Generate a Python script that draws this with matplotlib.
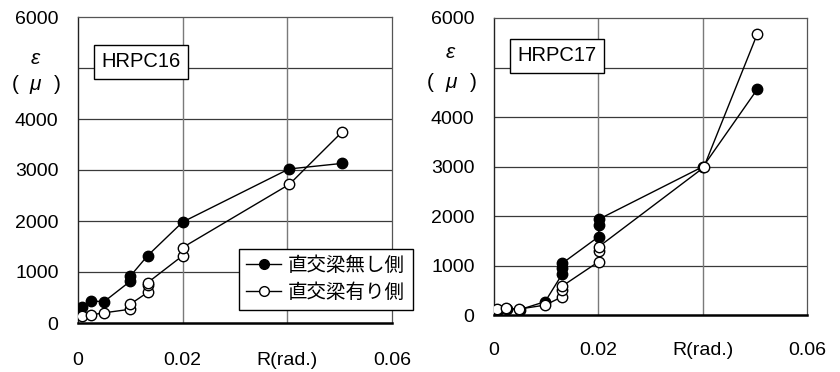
import matplotlib
matplotlib.use('Agg')
import matplotlib.pyplot as plt
from matplotlib.lines import Line2D

plt.rcParams['font.family'] = ['Liberation Sans', 'Noto Sans CJK JP', 'DejaVu Sans']
plt.rcParams['font.size'] = 14

# HRPC16: strain vs. drift angle
r16_without = [0.0007, 0.0025, 0.005, 0.01, 0.01, 0.0133, 0.02, 0.0403, 0.0505]
e16_without = [320, 430, 420, 820, 920, 1320, 1980, 3020, 3130]
r16_with = [0.0007, 0.0025, 0.005, 0.01, 0.01, 0.0133, 0.0133, 0.0133, 0.02, 0.02, 0.0404, 0.0505]
e16_with = [145, 160, 200, 270, 370, 600, 750, 790, 1320, 1480, 2720, 3750]

# HRPC17
r17_without = [0.0007, 0.0025, 0.005, 0.0098, 0.0131, 0.0131, 0.0131, 0.0201, 0.0201, 0.0201, 0.0401, 0.0505]
e17_without = [110, 130, 110, 270, 830, 940, 1045, 1585, 1820, 1935, 3000, 4565]
r17_with = [0.0006, 0.0023, 0.0048, 0.0098, 0.0131, 0.0131, 0.0131, 0.0201, 0.0201, 0.0201, 0.0402, 0.0505]
e17_with = [115, 135, 120, 200, 370, 505, 585, 1080, 1300, 1380, 2980, 5685]

xticks = [0, 0.02, 0.04, 0.06]
xticklabels = ['0', '0.02', 'R(rad.)', '0.06']
yticks = [0, 1000, 2000, 3000, 4000, 5000, 6000]
yticklabels = ['0', '1000', '2000', '3000', '4000', '', '6000']

W, H = 840, 372
fig = plt.figure(figsize=(W / 100, H / 100), dpi=100)


def px_axes(x0, y0, x1, y1):
    return fig.add_axes([x0 / W, 1 - y1 / H, (x1 - x0) / W, (y1 - y0) / H])


def setup(ax, name, box_xy, xpad):
    ax.set_xlim(0, 0.06)
    ax.set_ylim(0, 6000)
    ax.set_xticks(xticks)
    ax.set_xticklabels(xticklabels)
    ax.set_yticks(yticks)
    ax.set_yticklabels(yticklabels)
    ax.tick_params(axis='x', length=0, pad=xpad)
    ax.tick_params(axis='y', length=0, pad=14)
    for y in yticks[1:-1]:
        ax.axhline(y, color='#3a3a3a', lw=0.9, zorder=1)
    for x in xticks[1:-1]:
        ax.axvline(x, color='#7a7a7a', lw=1.0, zorder=1)
    for s in ['top', 'right']:
        ax.spines[s].set_color('#555555')
        ax.spines[s].set_linewidth(0.9)
    ax.spines['left'].set_color('#222222')
    ax.spines['left'].set_linewidth(1.0)
    ax.spines['bottom'].set_color('black')
    ax.spines['bottom'].set_linewidth(1.8)
    ax.text(box_xy[0], box_xy[1], name, transform=ax.transAxes, fontsize=14.5,
            ha='left', va='top', zorder=5,
            bbox=dict(boxstyle='square,pad=0.38', fc='white', ec='black', lw=1.0))


def draw(ax, r_no, e_no, r_yes, e_yes):
    ax.plot(r_no, e_no, color='black', lw=1.0, marker='o', ms=7.5,
            mfc='black', mec='black', mew=1.0, zorder=3)
    ax.plot(r_yes, e_yes, color='black', lw=1.0, marker='o', ms=7.5,
            mfc='white', mec='black', mew=1.0, zorder=4)


ax1 = px_axes(78, 17, 392, 323)
draw(ax1, r16_without, e16_without, r16_with, e16_with)
setup(ax1, 'HRPC16', (0.075, 0.885), 21)

ax2 = px_axes(494, 18, 807, 315)
draw(ax2, r17_without, e17_without, r17_with, e17_with)
setup(ax2, 'HRPC17', (0.075, 0.905), 19.5)

# strain unit labels beside the axes: ε over (μ)
for x_eps, y_eps, x_mu, y_mu in [(35, 59, (15, 35, 57), 85), (450, 53, (430, 451, 473), 82)]:
    fig.text(x_eps / W, 1 - y_eps / H, 'ε', ha='center', va='center', style='italic', fontsize=15)
    for x, ch in zip(x_mu, ['(', 'μ', ')']):
        fig.text(x / W, 1 - y_mu / H, ch, ha='center', va='center',
                 style='italic' if ch == 'μ' else 'normal', fontsize=15)

handles = [
    Line2D([], [], color='black', lw=1.0, marker='o', ms=7, mfc='black', mec='black'),
    Line2D([], [], color='black', lw=1.0, marker='o', ms=7, mfc='white', mec='black'),
]
leg = ax1.legend(handles, ['直交梁無し側', '直交梁有り側'], loc='lower right',
                 bbox_to_anchor=(413 / W, 1 - 310 / H), bbox_transform=fig.transFigure,
                 borderaxespad=0, fancybox=False, framealpha=1, edgecolor='black',
                 fontsize=14, handlelength=1.8, handletextpad=0.35,
                 borderpad=0.4, labelspacing=0.45)
leg.get_frame().set_linewidth(1.0)
leg.set_zorder(10)

fig.savefig('out.png', dpi=100)
